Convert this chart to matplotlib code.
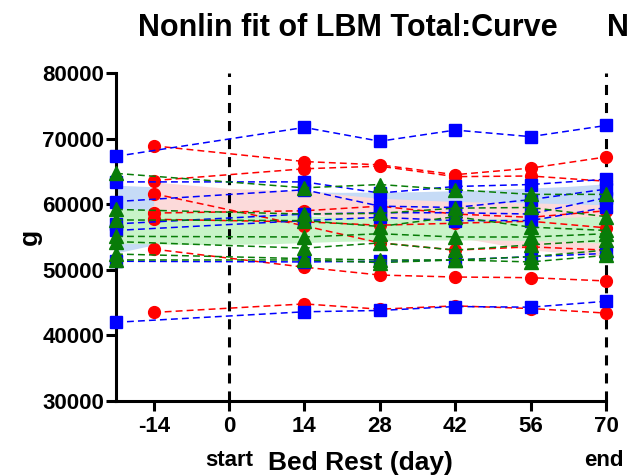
import matplotlib
matplotlib.use("Agg")
import matplotlib.pyplot as plt

plt.rcParams['font.family'] = ['Liberation Sans', 'DejaVu Sans']
plt.rcParams['font.weight'] = 'bold'

# ---- data ----
x_pre = [-21, 14, 28, 42, 56, 70]     # blue & green measurement days
x_red = [-14, 14, 28, 42, 56, 70]     # red measurement days

blue = [
    [67300, 71700, 69600, 71300, 70300, 72000],
    [63400, 63400, 61700, 62700, 63000, 63800],
    [60400, 62200, 59700, 59500, 60700, 62300],
    [57000, 58500, 58700, 58700, 58500, 61000],
    [56000, 57500, 58000, 57500, 57500, 59500],
    [51300, 51200, 51300, 51500, 52000, 52500],
    [42000, 43600, 43800, 44400, 44300, 45200],
]
red = [
    [68900, 66500, 66000, 64500, 65500, 67200],
    [63600, 65400, 65800, 64200, 64300, 63500],
    [61600, 56700, 54100, 53000, 53500, 53000],
    [58650, 59000, 59700, 58500, 58000, 59000],
    [57700, 57300, 56800, 57100, 57400, 56400],
    [53150, 50400, 49200, 48900, 48800, 48300],
    [43500, 44800, 44000, 44500, 44100, 43400],
]
green = [
    [64700, 62500, 63000, 62200, 61500, 61500],
    [59200, 58500, 58600, 59400, 59500, 58100],
    [57600, 57500, 56600, 58100, 56500, 56000],
    [55100, 55000, 55500, 55000, 55000, 55500],
    [54300, 53300, 54100, 53000, 53800, 54500],
    [52400, 51700, 51500, 51500, 52000, 53000],
    [51500, 51500, 51100, 51500, 51200, 52200],
]

band_x = [-21, -7, 7, 21, 35, 49, 63, 70]
blue_lo = [53000, 55500, 58000, 59400, 59700, 59700, 59600, 59500]
blue_hi = [62300, 61800, 61400, 61200, 61300, 61600, 62100, 62500]
green_lo = [54500, 54300, 54400, 54800, 55000, 55000, 54800, 54500]
green_hi = [58700, 58300, 57900, 57400, 57000, 57200, 57400, 57600]
pink_x = [-14, 0, 14, 28, 42, 56, 70]
pink_lo = [59200, 58800, 59000, 57600, 55500, 53500, 52500]
pink_hi = [62800, 61800, 61400, 60300, 59800, 59600, 59300]

xticks = [-14, 0, 14, 28, 42, 56, 70]
yticks = [30000, 40000, 50000, 60000, 70000, 80000]

# ---- figure ----
fig = plt.figure(figsize=(6.29, 4.76), dpi=100)
ax = fig.add_axes([116/629, 1-401/476, 490/629, 328/476])
ax.set_xlim(-21, 70)
ax.set_ylim(30000, 80000)

bands = [
    (band_x, blue_lo, blue_hi, '#c6dbf6', 1.0),
    (pink_x, pink_lo, pink_hi, '#fcdada', 1.1),
    (band_x, green_lo, green_hi, '#c8f4c8', 1.2),
]
for bx, lo, hi, col, z in bands:
    ax.fill_between(bx, lo, hi, color=col, lw=0, zorder=z)
    ax.plot(bx, lo, color=col, lw=5, solid_capstyle='round', zorder=z)
    ax.plot(bx, hi, color=col, lw=5, solid_capstyle='round', zorder=z)

for v in (0, 70):
    ax.axvline(v, color='black', lw=2.2, dashes=(3.3, 2.6), zorder=2,
               clip_on=False)

dash = (4.5, 2.7)
for s in red:
    ax.plot(x_red, s, color='#ff0000', lw=1.1, dashes=dash, marker='o', ms=8.5,
            mec='#ff0000', mfc='#ff0000', clip_on=False, zorder=3)
for s in blue:
    ax.plot(x_pre, s, color='#0000ff', lw=1.1, dashes=dash, marker='s', ms=8,
            mec='#0000ff', mfc='#0000ff', clip_on=False, zorder=4)
for s in green:
    ax.plot(x_pre, s, color='#087c08', lw=1.1, dashes=dash, marker='^', ms=9.5,
            mec='#087c08', mfc='#087c08', clip_on=False, zorder=5)

for sp in ('top', 'right'):
    ax.spines[sp].set_visible(False)
for sp in ('left', 'bottom'):
    ax.spines[sp].set_linewidth(2.2)
ax.set_xticks(xticks)
ax.set_xticklabels([str(t) for t in xticks])
ax.set_yticks(yticks)
ax.set_yticklabels([str(t) for t in yticks])
ax.tick_params(axis='both', direction='out', length=7, width=2.2, labelsize=16)
ax.tick_params(axis='y', pad=1.5)
ax.tick_params(axis='x', pad=4)

fig.text(30/629, 1-237/476, 'g', rotation=90, fontsize=19, fontweight='bold',
         ha='center', va='center')
fig.text(360/629, 1-463/476, 'Bed Rest (day)', fontsize=19, fontweight='bold',
         ha='center', va='center')
fig.text(229/629, 1-460/476, 'start', fontsize=16, fontweight='bold',
         ha='center', va='center')
fig.text(604/629, 1-460/476, 'end', fontsize=16, fontweight='bold',
         ha='center', va='center')
fig.text(348/629, 1-28/476, 'Nonlin fit of LBM Total:Curve', fontsize=22,
         fontweight='bold', ha='center', va='center')
fig.text(629/629, 1-28/476, 'N', fontsize=22,
         fontweight='bold', ha='right', va='center')

fig.savefig('out.png', dpi=100)
